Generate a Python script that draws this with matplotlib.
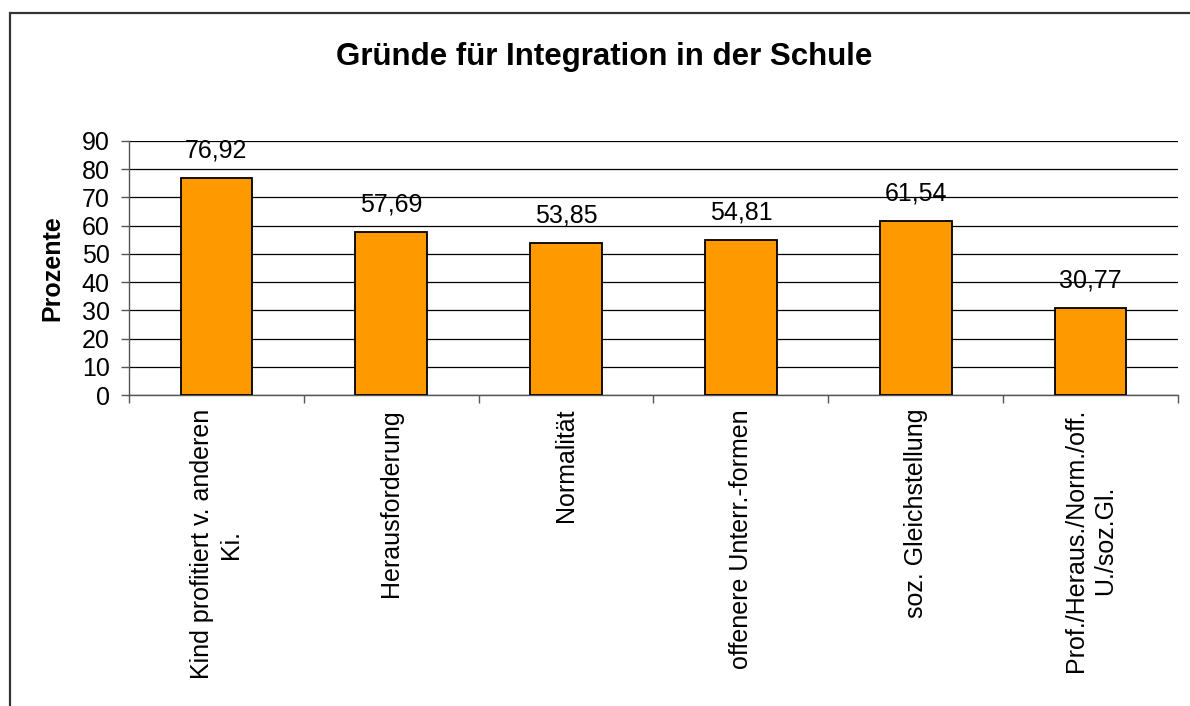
import matplotlib.pyplot as plt
from matplotlib.patches import Rectangle

plt.rcParams['font.family'] = ['Liberation Sans', 'DejaVu Sans']

categories = [
    'Kind profitiert v. anderen\nKi.',
    'Herausforderung',
    'Normalität',
    'offenere Unterr.-formen',
    'soz. Gleichstellung',
    'Prof./Heraus./Norm./off.\nU./soz.Gl.',
]
values = [76.92, 57.69, 53.85, 54.81, 61.54, 30.77]
value_labels = ['76,92', '57,69', '53,85', '54,81', '61,54', '30,77']
y_ticks = list(range(0, 100, 10))

fig = plt.figure(figsize=(11.9, 7.06), dpi=100)
ax = fig.add_axes([129 / 1190, 1 - 395 / 706, 1049 / 1190, 254 / 706])

x = list(range(len(categories)))
ax.set_axisbelow(True)
ax.bar(x, values, width=0.41, color='#FF9900', edgecolor='black', linewidth=1.3, zorder=3)

for xi, v, lab in zip(x, values, value_labels):
    ax.annotate(lab, (xi, v), xytext=(0, 15), textcoords='offset points',
                ha='center', va='baseline', fontsize=18)

ax.set_xlim(-0.5, len(categories) - 0.5)
ax.set_ylim(0, 90)
ax.set_yticks(y_ticks)
ax.yaxis.grid(True, color='black', linewidth=0.9)
ax.tick_params(axis='y', labelsize=18, length=6, width=1, color='#555555', pad=8)

ax.set_xticks(x)
ax.set_xticklabels(categories, rotation=90, fontsize=18, ha='center', va='top',
                   multialignment='center', linespacing=1.25)
ax.tick_params(axis='x', which='major', length=0, pad=10)
ax.set_xticks([i - 0.5 for i in range(len(categories) + 1)], minor=True)
ax.tick_params(axis='x', which='minor', length=6, width=1, color='#555555')

for s in ['top', 'right']:
    ax.spines[s].set_visible(False)
for s in ['left', 'bottom']:
    ax.spines[s].set_color('#555555')
    ax.spines[s].set_linewidth(1)

fig.text(52 / 1190, 1 - 268 / 706, 'Prozente', rotation=90, ha='center', va='center',
         fontsize=18, fontweight='bold')
fig.text(604 / 1190, 1 - 57 / 706, 'Gründe für Integration in der Schule',
         ha='center', va='center', fontsize=22.5, fontweight='bold')

# outer chart frame (only top and left edges fall inside the image)
fig.add_artist(Rectangle((10 / 1190, -0.2), 2, 1.2 - 13 / 706, transform=fig.transFigure,
                         fill=False, edgecolor='#333333', linewidth=1.6, clip_on=False))

fig.savefig('out.png', dpi=100)
